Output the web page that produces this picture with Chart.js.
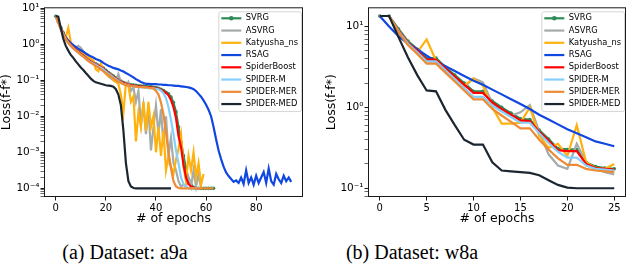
<!DOCTYPE html>
<html>
<head>
<meta charset="utf-8">
<script src="https://cdn.jsdelivr.net/npm/chart.js"></script>
<style>
    html, body { margin: 0; padding: 0; background: #fff; }
    body { width: 630px; height: 276px; position: relative; overflow: hidden; }
    canvas { position: absolute; top: 0; }
    #chartA { left: 0; }
    #chartB { left: 315px; }
    .caption {
        position: absolute; top: 241px; white-space: nowrap; color: #000;
        font-family: 'Liberation Serif', 'Times New Roman', serif; font-size: 20px;
        transform: translateX(-50%);
    }
</style>
</head>
<body>
<canvas id="chartA" width="315" height="232"></canvas>
<canvas id="chartB" width="315" height="232"></canvas>
<div class="caption" style="left:125px">(a) Dataset: a9a</div>
<div class="caption" style="left:412px">(b) Dataset: w8a</div>
<script>
// Series names (legend order)
const seriesNames = ['SVRG', 'ASVRG', 'Katyusha_ns', 'RSAG', 'SpiderBoost', 'SPIDER-M', 'SPIDER-MER', 'SPIDER-MED'];

// a9a: loss per epoch (index = epoch)
const a9aSVRG = [5.9, 4.2, 2.9, 2.05, 1.5, 1.19, 0.99, 0.84, 0.73, 0.64,
    0.555, 0.495, 0.43, 0.375, 0.343, 0.313, 0.285, 0.26, 0.242, 0.216,
    0.188, 0.164, 0.146, 0.13, 0.116, 0.104, 0.0944, 0.0861, 0.0822, 0.0786,
    0.075, 0.0733, 0.0716, 0.07, 0.0684, 0.0684, 0.0669, 0.0653, 0.0653, 0.0639,
    0.0624, 0.0595, 0.0556, 0.0519, 0.0463, 0.0417, 0.0339, 0.024, 0.0132, 0.005,
    0.0019, 0.000794, 0.000355, 0.000178, 0.000126, 0.000107, 0.0001, 0.0001, 0.0001, 0.0001,
    0.0001, 0.0001, 0.0001, 0.0001];
const a9aASVRG = [5.89, 3.98, 2.63, 1.86, 1.41, 1.12, 0.955, 0.832, 0.794, 0.891,
    0.794, 0.631, 0.501, 0.417, 0.355, 0.316, 0.282, 0.251, 0.2, 0.178,
    0.151, 0.132, 0.112, 0.1, 0.0891, 0.148, 0.0891, 0.0794, 0.0708, 0.0891,
    0.0501, 0.0631, 0.0251, 0.0501, 0.00631, 0.02, 0.00316, 0.0158, 0.00112, 0.00501,
    0.02, 0.00316, 0.0158, 0.00158, 0.01, 0.000794, 0.00251, 0.000501, 0.000316, 0.000158,
    0.000112, 0.000126, 0.000112, 0.0002, 0.000112, 0.000316, 0.000112, 0.000251, 0.0001];
const a9aKatyusha = [5.89, 3.98, 2.63, 1.91, 1.58, 2.82, 1.12, 0.891, 0.794, 0.708,
    0.631, 0.562, 0.501, 0.447, 0.398, 0.355, 0.2, 0.178, 0.282, 0.2,
    0.151, 0.126, 0.141, 0.1, 0.0891, 0.0794, 0.0398, 0.0126, 0.0794, 0.0708,
    0.0251, 0.0355, 0.002, 0.0126, 0.00501, 0.0251, 0.00398, 0.0251, 0.00501, 0.01,
    0.001, 0.00501, 0.000794, 0.00398, 0.000316, 0.000794, 0.000398, 0.000251, 0.000631, 0.00126,
    0.00316, 0.000398, 0.000158, 0.000794, 0.000316, 0.001, 0.0002, 0.000501, 0.000126, 0.000251];
const a9aRSAG = [5.89, 4.17, 2.82, 2.0, 1.51, 1.26, 1.07, 0.933, 0.832, 0.741,
    0.676, 0.617, 0.55, 0.501, 0.457, 0.427, 0.389, 0.363, 0.339, 0.302,
    0.275, 0.251, 0.234, 0.219, 0.209, 0.2, 0.186, 0.174, 0.158, 0.145,
    0.132, 0.12, 0.107, 0.0977, 0.0891, 0.0832, 0.0794, 0.0794, 0.0776, 0.0776,
    0.0776, 0.0759, 0.0759, 0.0741, 0.0741, 0.0724, 0.0724, 0.0708, 0.0692, 0.0692,
    0.0676, 0.0661, 0.0646, 0.0631, 0.0603, 0.0562, 0.0501, 0.0417, 0.0347, 0.0275,
    0.0209, 0.0151, 0.01, 0.00501, 0.00229, 0.00112, 0.000646, 0.000398, 0.000275, 0.000219,
    0.000182, 0.000151, 0.000166, 0.000141, 0.0002, 0.000132, 0.000316, 0.000141, 0.0002, 0.000126,
    0.000224, 0.000141, 0.0002, 0.000282, 0.000141, 0.000355, 0.000158, 0.000126, 0.000251, 0.000178,
    0.000141, 0.000224, 0.000158, 0.0002, 0.000151];
const a9aSpiderBoost = [5.89, 4.17, 2.82, 2.0, 1.45, 1.15, 0.955, 0.813, 0.708, 0.617,
    0.537, 0.479, 0.417, 0.363, 0.331, 0.302, 0.275, 0.251, 0.234, 0.209,
    0.182, 0.158, 0.141, 0.126, 0.112, 0.1, 0.0912, 0.0832, 0.0794, 0.0759,
    0.0724, 0.0708, 0.0692, 0.0676, 0.0661, 0.0661, 0.0646, 0.0631, 0.0631, 0.0617,
    0.0603, 0.0575, 0.0537, 0.0501, 0.0447, 0.038, 0.0282, 0.0178, 0.0089, 0.00282,
    0.00141, 0.000447, 0.0002, 0.000132, 0.000112, 0.000105, 0.0001, 0.0001, 0.0001];
const a9aSpiderM = [5.89, 4.0, 2.7, 1.91, 1.38, 1.1, 0.912, 0.776, 0.676, 0.589,
    0.513, 0.457, 0.398, 0.347, 0.316, 0.288, 0.263, 0.24, 0.223, 0.2,
    0.174, 0.151, 0.135, 0.12, 0.107, 0.0955, 0.0871, 0.0794, 0.0759, 0.0724,
    0.0692, 0.0676, 0.0661, 0.0646, 0.0631, 0.0631, 0.0617, 0.0603, 0.0603, 0.0589,
    0.0575, 0.0562, 0.0513, 0.0437, 0.0316, 0.0178, 0.00794, 0.00316, 0.00112, 0.000501,
    0.0002, 0.000132, 0.000112, 0.0001, 0.0001, 0.0001, 0.0001, 0.0001, 0.0001];
const a9aSpiderMER = [5.89, 3.98, 2.63, 1.86, 1.35, 1.07, 0.891, 0.759, 0.661, 0.575,
    0.501, 0.447, 0.389, 0.339, 0.302, 0.275, 0.245, 0.224, 0.2, 0.178,
    0.158, 0.141, 0.126, 0.112, 0.1, 0.0912, 0.0832, 0.0776, 0.0741, 0.0708,
    0.0692, 0.0676, 0.0661, 0.0646, 0.0646, 0.0631, 0.0631, 0.0617, 0.0603, 0.0589,
    0.0501, 0.0398, 0.024, 0.0112, 0.00355, 0.001, 0.000355, 0.000158, 0.000112, 0.000102,
    0.0001, 0.0001, 0.0001, 0.0001, 0.0001, 0.0001, 0.0001, 0.0001, 0.0001, 0.0001,
    0.0001, 0.0001, 0.0001, 0.0001];
const a9aSpiderMED = [6.03, 5.75, 2.82, 1.41, 0.891, 0.661, 0.501, 0.417, 0.331, 0.275,
    0.224, 0.191, 0.158, 0.132, 0.11, 0.0955, 0.0871, 0.0832, 0.0794, 0.0759,
    0.0724, 0.0708, 0.0692, 0.0661, 0.0562, 0.0398, 0.02, 0.00398, 0.000501, 0.000158,
    0.000112, 0.000102, 0.0001, 0.0001, 0.0001, 0.0001, 0.0001, 0.0001, 0.0001, 0.0001,
    0.0001, 0.0001, 0.0001, 0.0001, 0.0001, 0.0001, 0.0001];

// w8a: loss per epoch (index = epoch)
const w8aSVRG = [13.5, 13.5, 9.33, 6.61, 5.25, 4.07, 4.07, 3.16, 2.51, 2.0,
    1.58, 1.58, 1.2, 1.0, 0.851, 0.724, 0.708, 0.525, 0.407, 0.309,
    0.302, 0.302, 0.209, 0.186, 0.178, 0.174];
const w8aASVRG = [13.5, 13.5, 8.51, 6.03, 4.79, 3.72, 3.72, 2.88, 2.24, 1.78,
    2.29, 2.04, 1.12, 0.933, 0.794, 0.871, 1.07, 0.501, 0.263, 0.191,
    0.174, 0.355, 0.209, 0.174, 0.158, 0.148];
const w8aKatyusha = [13.5, 13.5, 8.91, 6.31, 4.79, 6.92, 3.8, 2.95, 2.34, 1.86,
    2.29, 1.86, 1.0, 0.631, 0.631, 0.646, 1.0, 0.447, 0.316, 0.355,
    0.251, 0.603, 0.209, 0.178, 0.174, 0.2];
const w8aRSAG = [13.5, 10.0, 7.59, 6.17, 5.25, 4.37, 3.72, 3.24, 2.82, 2.45,
    2.14, 1.91, 1.66, 1.45, 1.26, 1.1, 0.955, 0.813, 0.708, 0.617,
    0.537, 0.479, 0.427, 0.38, 0.355, 0.331];
const w8aSpiderBoost = [13.5, 13.5, 8.91, 6.31, 5.01, 3.89, 3.89, 3.02, 2.4, 1.91,
    1.51, 1.51, 1.15, 0.955, 0.813, 0.692, 0.676, 0.501, 0.389, 0.295,
    0.288, 0.288, 0.2, 0.178, 0.174, 0.17];
const w8aSpiderM = [13.5, 13.5, 8.71, 6.17, 4.79, 3.72, 3.72, 2.88, 2.24, 1.74,
    1.35, 1.35, 1.05, 0.891, 0.759, 0.646, 0.646, 0.479, 0.363, 0.282,
    0.24, 0.24, 0.191, 0.174, 0.17, 0.166];
const w8aSpiderMER = [13.5, 13.5, 8.51, 5.89, 4.57, 3.47, 3.47, 2.69, 2.09, 1.62,
    1.26, 1.26, 0.955, 0.794, 0.661, 0.55, 0.55, 0.398, 0.302, 0.234,
    0.195, 0.195, 0.174, 0.166, 0.162, 0.158];
const w8aSpiderMED = [13.5, 13.5, 7.41, 4.17, 2.51, 1.62, 1.58, 0.933, 0.603, 0.398,
    0.347, 0.347, 0.209, 0.166, 0.162, 0.158, 0.155, 0.145, 0.126, 0.11,
    0.102, 0.1, 0.1, 0.1, 0.1, 0.1];

// Tick labels
const a9aTicksX = [0, 20, 40, 60, 80];
const w8aTicksX = [0, 5, 10, 15, 20, 25];
const a9aTicksY = [1e-4, 1e-3, 1e-2, 1e-1, 1, 10];
const w8aTicksY = [0.1, 1, 10];

// Styles
const seriesColors = ['#2e8b57', '#a3abab', '#ffb20f', '#0f47e0', '#ff0000', '#87cefa', '#ee8a33', '#1c2631'];
const FONT = "'DejaVu Sans', sans-serif";

const SUP = { '-': '\u207b', '0': '\u2070', '1': '\u00b9', '2': '\u00b2', '3': '\u00b3', '4': '\u2074',
    '5': '\u2075', '6': '\u2076', '7': '\u2077', '8': '\u2078', '9': '\u2079' };

function isDecade(v) {
    const e = Math.log10(v);
    return Math.abs(e - Math.round(e)) < 1e-6;
}

function decadeLabel(v) {
    const e = String(Math.round(Math.log10(v)));
    return '10' + e.split('').map(c => SUP[c]).join('');
}

// minor log ticks (2..9 x decade) inside [min, max]
function minorTicks(min, max) {
    const out = [];
    for (let d = Math.floor(Math.log10(min)); d <= Math.ceil(Math.log10(max)); d++) {
        for (let m = 2; m <= 9; m++) {
            const v = m * Math.pow(10, d);
            if (v >= min && v <= max) out.push(v);
        }
    }
    return out;
}

const framePlugin = {
    id: 'frame',
    afterDatasetsDraw(chart) {
        const { ctx, chartArea: a } = chart;
        ctx.save();
        ctx.strokeStyle = '#1a1a1a';
        ctx.lineWidth = 1;
        ctx.strokeRect(a.left + 0.5, a.top + 0.5, a.right - a.left - 1, a.bottom - a.top - 1);
        ctx.restore();
    }
};

const legendPlugin = {
    id: 'boxLegend',
    afterDraw(chart) {
        const { ctx, chartArea: a } = chart;
        const sets = chart.data.datasets;
        ctx.save();
        ctx.font = '8.3px ' + FONT;
        const textW = Math.max(...sets.map(d => ctx.measureText(d.label).width));
        const pad = 3, handle = 20, gap = 4.5, rowH = 12.25;
        const w = pad + handle + gap + textW + pad;
        const h = 14 + (sets.length - 1) * rowH;
        const right = a.right - 2, left = right - w, top = a.top + 4;

        ctx.beginPath();
        ctx.roundRect(left + 0.5, top + 0.5, w, h, 2);
        ctx.fillStyle = 'rgba(255,255,255,0.8)';
        ctx.fill();
        ctx.strokeStyle = '#cccccc';
        ctx.lineWidth = 0.8;
        ctx.stroke();

        sets.forEach((d, i) => {
            const y = top + 7 + i * rowH;
            ctx.beginPath();
            ctx.moveTo(left + pad, y);
            ctx.lineTo(left + pad + handle, y);
            ctx.strokeStyle = d.borderColor;
            ctx.lineWidth = d.borderWidth;
            ctx.stroke();
            if (d.pointRadius > 0) {
                ctx.beginPath();
                ctx.arc(left + pad + handle / 2, y, 2.3, 0, Math.PI * 2);
                ctx.fillStyle = d.borderColor;
                ctx.fill();
            }
            ctx.fillStyle = '#000';
            ctx.textBaseline = 'middle';
            ctx.fillText(d.label, left + pad + handle + gap, y);
        });
        ctx.restore();
    }
};

function buildChart(canvasId, series, cfg) {
    const datasets = series.map((values, i) => ({
        label: seriesNames[i],
        data: values.map((v, epoch) => ({ x: epoch, y: v })),
        borderColor: seriesColors[i],
        backgroundColor: seriesColors[i],
        borderWidth: 2.2,
        pointRadius: i === 0 ? 1.8 : 0,
        pointBorderWidth: 0,
        tension: 0,
        order: series.length - i
    }));

    const majorY = cfg.ticksY;
    const allY = majorY.concat(minorTicks(cfg.yMin, cfg.yMax)).sort((p, q) => p - q);

    return new Chart(document.getElementById(canvasId), {
        type: 'line',
        data: { datasets },
        options: {
            responsive: false,
            animation: false,
            devicePixelRatio: 1,
            events: [],
            layout: { padding: { top: cfg.padTop, right: cfg.padRight, left: 0, bottom: 0 } },
            plugins: { legend: { display: false }, tooltip: { enabled: false } },
            scales: {
                x: {
                    type: 'linear',
                    min: cfg.xMin,
                    max: cfg.xMax,
                    afterBuildTicks: s => { s.ticks = cfg.ticksX.map(v => ({ value: v })); },
                    afterFit: s => { s.height = 35; },
                    grid: { drawOnChartArea: false, tickLength: 3.5, tickColor: '#000', tickWidth: 0.9 },
                    border: { display: false },
                    ticks: { color: '#000', font: { family: FONT, size: 10 }, padding: 1.5, maxRotation: 0 },
                    title: {
                        display: true, text: '# of epochs', color: '#000',
                        font: { family: FONT, size: 12.5 }, padding: { top: 0, bottom: 6 }
                    }
                },
                y: {
                    type: 'logarithmic',
                    min: cfg.yMin,
                    max: cfg.yMax,
                    afterBuildTicks: s => { s.ticks = allY.map(v => ({ value: v })); },
                    afterFit: s => { s.width = cfg.yWidth; },
                    grid: {
                        drawOnChartArea: false, tickLength: 3.5, tickColor: '#000',
                        tickWidth: c => (c.tick && isDecade(c.tick.value) ? 0.9 : 0.6)
                    },
                    border: { display: false },
                    ticks: {
                        color: '#000', font: { family: FONT, size: 10.5 }, padding: 1, autoSkip: false,
                        callback: v => (isDecade(v) ? decadeLabel(v) : '')
                    },
                    title: {
                        display: true, text: 'Loss(f-f*)', color: '#000',
                        font: { family: FONT, size: 12.5 }, padding: { top: cfg.yTitlePad, bottom: 0 }
                    }
                }
            }
        },
        plugins: [framePlugin, legendPlugin]
    });
}

buildChart('chartA',
    [a9aSVRG, a9aASVRG, a9aKatyusha, a9aRSAG, a9aSpiderBoost, a9aSpiderM, a9aSpiderMER, a9aSpiderMED],
    { xMin: -4.7, xMax: 98.7, yMin: 5.75e-5, yMax: 10.5, ticksX: a9aTicksX, ticksY: a9aTicksY,
      padTop: 5, padRight: 12, yWidth: 44, yTitlePad: -1 });

buildChart('chartB',
    [w8aSVRG, w8aASVRG, w8aKatyusha, w8aRSAG, w8aSpiderBoost, w8aSpiderM, w8aSpiderMER, w8aSpiderMED],
    { xMin: -1.25, xMax: 26.25, yMin: 0.078, yMax: 17.3, ticksX: w8aTicksX, ticksY: w8aTicksY,
      padTop: 3, padRight: 2, yWidth: 53, yTitlePad: 9 });
</script>
</body>
</html>
